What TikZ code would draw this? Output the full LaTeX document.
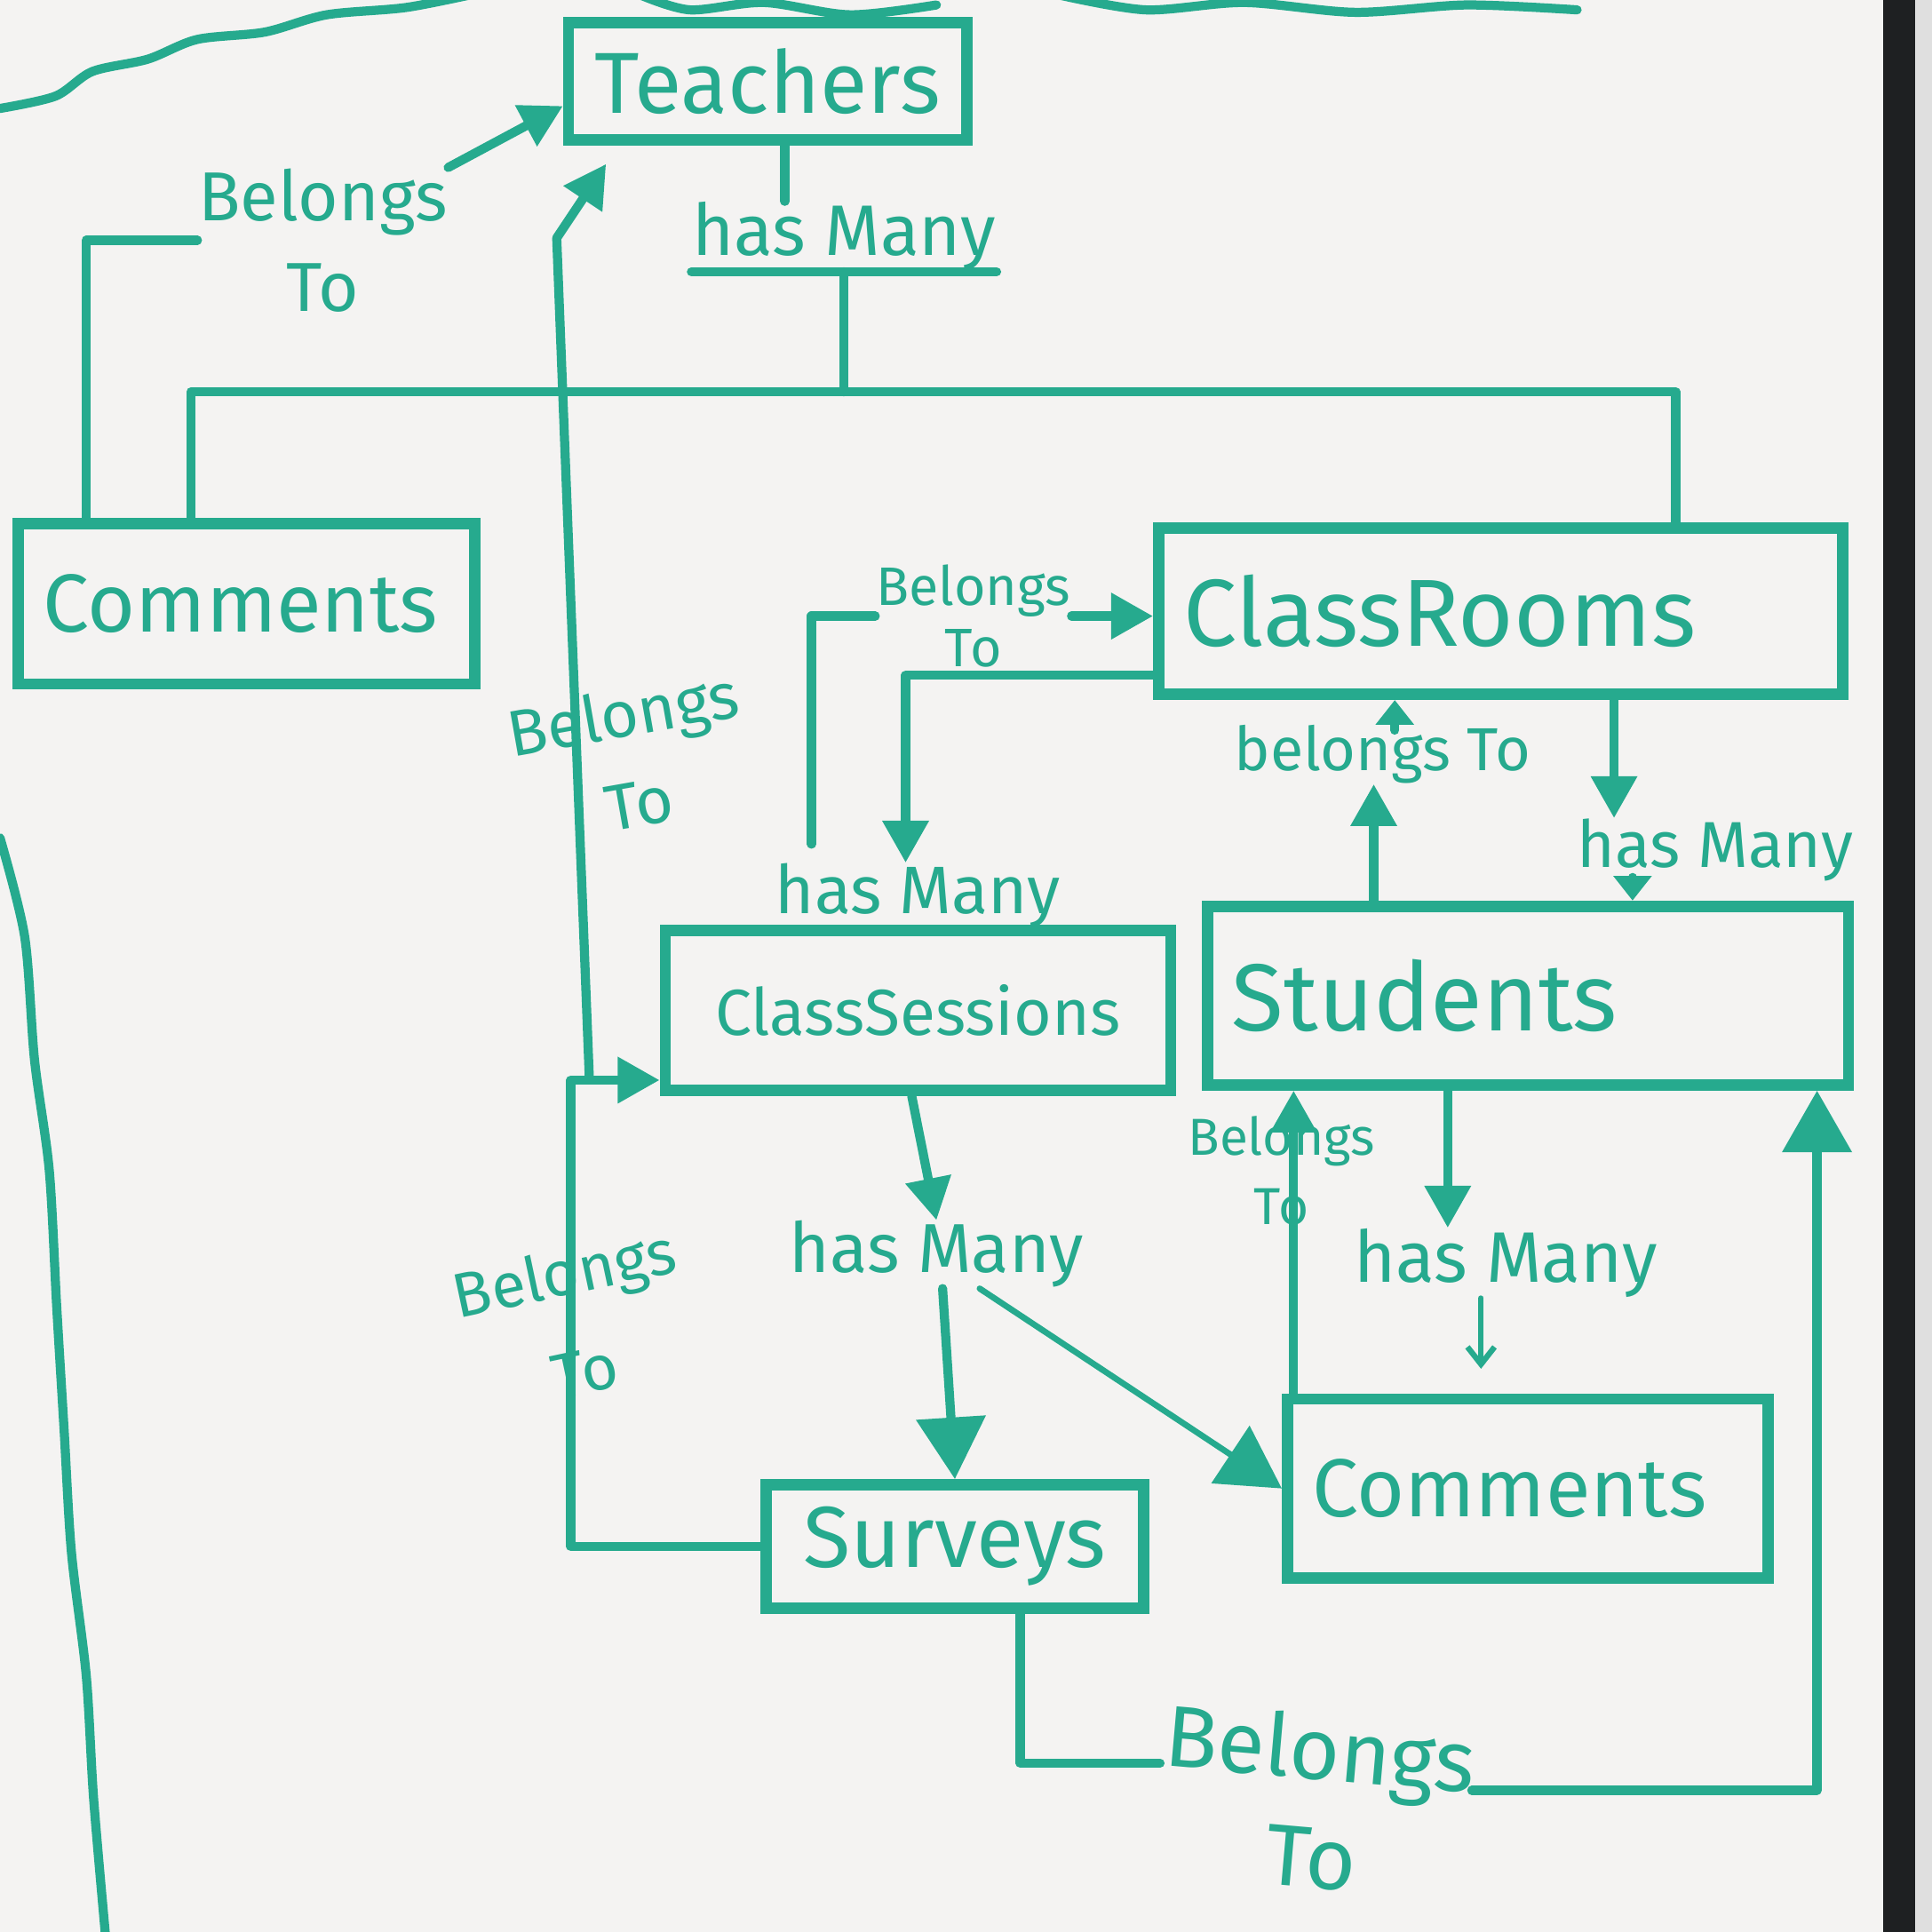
\documentclass[tikz,border=0pt]{standalone}
\usepackage{fontspec}
\setmainfont{Fira Sans}
\usetikzlibrary{arrows.meta}
\definecolor{marker}{RGB}{38,170,142}
\definecolor{board}{RGB}{244,243,242}
\definecolor{bezel}{RGB}{30,32,34}

\begin{document}
\begin{tikzpicture}[
  x=0.01cm, y=-0.01cm,
  box/.style={draw=marker, line width=2.6pt, text=marker, inner xsep=0.2cm, inner ysep=0pt},
  lbox/.style={box, align=left},
  tag/.style={text=marker, align=center, inner sep=0pt},
  wire/.style={draw=marker, line width=2.1pt, line cap=round, line join=round},
  arr/.style={wire, -{Triangle[length=0.34cm,width=0.36cm]}},
  arrb/.style={wire, -{Triangle[length=0.5cm,width=0.55cm]}},
  arrs/.style={wire, -{Triangle[length=0.2cm,width=0.3cm]}},
  smallarr/.style={wire, line width=1.3pt, shorten >=0.2cm, -{Straight Barb[length=0.14cm,width=0.22cm]}}
]
\fill[board] (0,0) rectangle (1568,1568);
\useasboundingbox (0,0) rectangle (1568,1568);
\clip (0,0) rectangle (1568,1568);

% scraps of other drawings on the board
\draw[wire] plot[smooth] coordinates {(0,88) (45,78) (75,58) (120,48) (160,32) (215,26) (265,12) (330,6) (390,-6)};
\draw[wire] plot[smooth] coordinates {(0,680) (20,760) (28,860) (40,950) (46,1060) (52,1160) (58,1260) (70,1360) (76,1460) (86,1575)};
\draw[wire] plot[smooth] coordinates {(520,-4) (560,8) (620,2) (690,12) (760,4)};
\draw[wire] plot[smooth] coordinates {(860,-4) (930,8) (1010,2) (1100,10) (1190,4) (1280,8)};

% entities
\node[box, minimum width=3.23cm, minimum height=0.95cm, font=\fontsize{20pt}{22pt}\selectfont] (teachers) at (623,66) {Teachers};
\node[lbox, text width=3.3cm, minimum height=1.3cm, font=\fontsize{19pt}{21pt}\selectfont] (comL) at (200,490) {Comments\\[-0.35cm]};
\node[lbox, text width=5.15cm, minimum height=1.35cm, font=\fontsize{22pt}{24pt}\selectfont] (classrooms) at (1218,496) {ClassRooms};
\node[box, minimum width=4.1cm, minimum height=1.3cm, font=\fontsize{15pt}{17pt}\selectfont] (sessions) at (745,820) {ClassSessions};
\node[lbox, text width=4.8cm, minimum height=1.45cm, font=\fontsize{22pt}{24pt}\selectfont] (students) at (1240,808) {Students};
\node[lbox, text width=3.5cm, minimum height=1.45cm, font=\fontsize{19pt}{21pt}\selectfont] (comR) at (1240,1208) {Comments};
\node[box, minimum width=3.06cm, minimum height=1.0cm, font=\fontsize{20pt}{22pt}\selectfont] (surveys) at (775,1255) {Surveys};

% relation labels
\node[tag, font=\fontsize{16pt}{21pt}\selectfont] (bt1) at (262,195) {Belongs\\To};
\node[tag, font=\fontsize{16.5pt}{18pt}\selectfont] (hm1) at (685,192) {has Many};
\node[tag, rotate=10, font=\fontsize{15pt}{21pt}\selectfont] (bt2) at (512,615) {Belongs\\To};
\node[tag, font=\fontsize{12.5pt}{14pt}\selectfont] (bt3) at (790,500) {Belongs\\To};
\node[tag, font=\fontsize{15.5pt}{17pt}\selectfont] (hm2) at (745,727) {has Many};
\node[tag, font=\fontsize{14pt}{16pt}\selectfont] (bt4) at (1122,612) {belongs To};
\node[tag, font=\fontsize{15pt}{17pt}\selectfont] (hm3) at (1392,690) {has Many};
\node[tag, font=\fontsize{16pt}{18pt}\selectfont] (hm4) at (760,1018) {has Many};
\node[tag, font=\fontsize{12pt}{16pt}\selectfont] (bt5) at (1040,950) {Belongs\\To};
\node[tag, font=\fontsize{16.5pt}{18pt}\selectfont] (hm5) at (1222,1025) {has Many};
\node[tag, rotate=12, font=\fontsize{14.5pt}{23pt}\selectfont] (bt6) at (466,1072) {Belongs\\To};
\node[tag, rotate=-5, font=\fontsize{20pt}{25pt}\selectfont] (bt7) at (1068,1462) {Belongs\\To};

% Comments -> Teachers
\draw[wire] ([xshift=-1.3cm]comL.north) |- (bt1.west);
\draw[arr] (bt1.north east) -- ([yshift=-0.2cm]teachers.west);

% Teachers has many Comments / ClassRooms
\coordinate (t1) at ([xshift=0.14cm]teachers.south);
\coordinate (bus) at (800,318);
\draw[wire] (t1) -- (t1 |- hm1.north);
\draw[wire] (hm1.south west) -- (hm1.south east);
\draw[wire] (hm1.south) -- (hm1.south |- bus);
\draw[wire] ([xshift=-0.45cm]comL.north) |- (bus) -| ([xshift=1.42cm]classrooms.north);

% ClassSessions -> Teachers
\draw[arr] ([xshift=-0.57cm,yshift=0.15cm]sessions.south west) -- ([xshift=-0.05cm,yshift=-0.75cm]teachers.south west) -- ([xshift=0.35cm,yshift=-0.15cm]teachers.south west);

% Surveys -> ClassSessions
\draw[arr] (surveys.west) -| ([xshift=-0.72cm,yshift=0.13cm]sessions.south west) -- ([yshift=0.13cm]sessions.south west);

% ClassSessions <-> ClassRooms
\coordinate (c2) at ([xshift=-0.1cm]hm2.north);
\draw[wire] ([xshift=0.3cm,yshift=0.15cm]hm2.north west) |- (bt3.west);
\draw[arr] (bt3.east) -- (classrooms.west |- bt3.east);
\draw[arr] ([yshift=0.2cm]classrooms.south west) -| (c2);

% Students <-> ClassRooms
\coordinate (c3) at ([xshift=-1.25cm]students.north);
\coordinate (c4) at ([xshift=0.1cm,yshift=-0.05cm]bt4.north);
\draw[arr] (c3) -- (c3 |- bt4.south);
\draw[arrs] (c4) -- (c4 |- classrooms.south);
\coordinate (c5) at ([xshift=-0.82cm]hm3.north);
\coordinate (c6) at ([xshift=-0.67cm]hm3.south);
\draw[arr] (c5 |- classrooms.south) -- (c5);
\draw[arrs] (c6) -- (c6 |- students.north);

% ClassSessions has many Surveys / Comments
\draw[arr] ([xshift=-0.05cm]sessions.south) -- (hm4.north);
\draw[arrb] ([xshift=0.05cm]hm4.south) -- (surveys.north);
\draw[arrb, line width=1.4pt] ([xshift=-0.85cm]hm4.south east) -- (comR.west);

% Students <-> Comments
\coordinate (c7) at ([xshift=-0.65cm]students.south);
\coordinate (c8) at ([xshift=-0.2cm]hm5.south);
\coordinate (c9) at ([xshift=-1.9cm]comR.north);
\draw[arr] (c7) -- (c7 |- hm5.north);
\draw[smallarr] (c8) -- (c8 |- comR.north);
\draw[arr] (c9) -- (c9 |- students.south);

% Surveys -> Students
\draw[wire] ([xshift=0.53cm]surveys.south) |- ([yshift=0.2cm]bt7.west);
\draw[arrb] ([yshift=0.2cm]bt7.east) -| ([xshift=-0.3cm]students.south east);

% board frame
\fill[bezel] (1528,0) rectangle (1554,1568);
\fill[gray!25] (1554,0) rectangle (1568,1568);
\end{tikzpicture}
\end{document}
